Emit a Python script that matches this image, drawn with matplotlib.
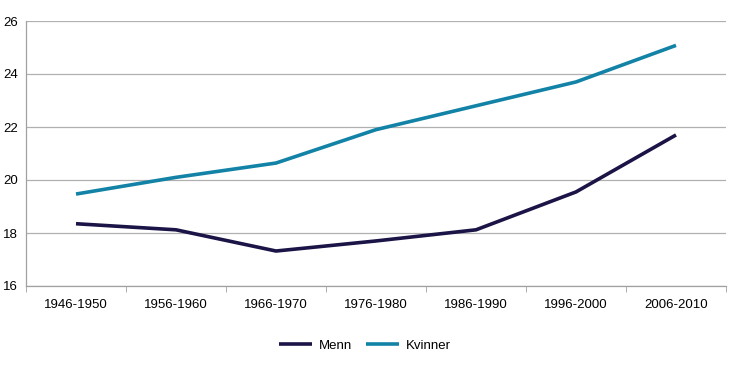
import numpy as np
import matplotlib.pyplot as plt

plt.rcParams['font.family'] = ['Liberation Sans', 'DejaVu Sans']

periods = ['1946-1950', '1956-1960', '1966-1970', '1976-1980',
           '1986-1990', '1996-2000', '2006-2010']
menn = [18.35, 18.12, 17.32, 17.7, 18.12, 19.55, 21.7]
kvinner = [19.47, 20.1, 20.64, 21.9, 22.8, 23.7, 25.08]

fig = plt.figure(figsize=(7.3, 3.7), dpi=100)
ax = fig.add_axes([26/730, 1 - 286/370, 700/730, 265/370])

x = np.arange(len(periods))
ax.plot(x, menn, color='#1b1446', lw=2.6, label='Menn', solid_capstyle='butt')
ax.plot(x, kvinner, color='#1283a6', lw=2.6, label='Kvinner', solid_capstyle='butt')

ax.set_xlim(-0.5, len(periods) - 0.5)
ax.set_ylim(16, 26)
ax.set_yticks(range(16, 27, 2))
ax.yaxis.grid(True, color='#b0b0b0', lw=0.9)
ax.set_axisbelow(True)
ax.set_xticks(x)
ax.set_xticklabels(periods)
ax.set_xticks(np.arange(-0.5, len(periods)), minor=True)
ax.tick_params(axis='x', which='major', length=0, pad=9, labelsize=9.5)
ax.tick_params(axis='x', which='minor', length=4, color='#a0a0a0', direction='out')
ax.tick_params(axis='y', length=0, pad=6, labelsize=9.5)
for s in ['top', 'right']:
    ax.spines[s].set_visible(False)
for s in ['left', 'bottom']:
    ax.spines[s].set_color('#a0a0a0')
    ax.spines[s].set_linewidth(0.9)

fig.legend(loc='center', bbox_to_anchor=(0.5, 0.065), ncol=2, frameon=False,
           fontsize=9.5, handlelength=2.5, handletextpad=0.55, columnspacing=1.05)

fig.savefig('out.png', dpi=100)
plt.close(fig)
